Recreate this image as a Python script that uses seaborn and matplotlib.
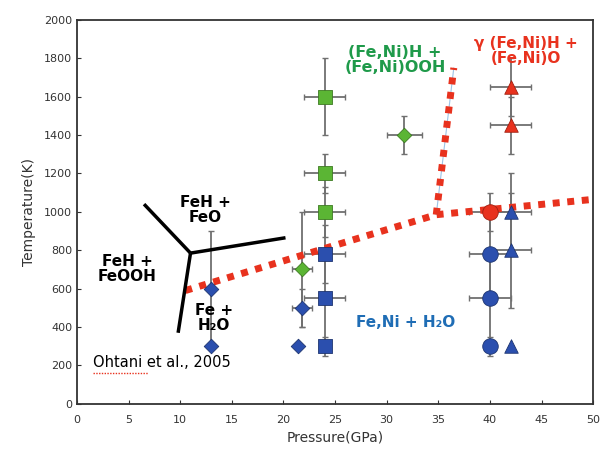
import numpy as np
import pandas as pd
import matplotlib
matplotlib.use("Agg")
import matplotlib.pyplot as plt
import seaborn as sns

# ---------------- data ----------------
# Blue diamonds (Fe,Ni + H2O)
bd_P = [13.0, 13.0, 21.8, 21.4]
bd_T = [600, 300, 500, 300]
bd_xe = [0, 0, 1.0, 0]
bd_ye = [300, 0, 100, 0]
# Green diamonds
gd_P = [21.8, 31.7]
gd_T = [700, 1400]
gd_xe = [1.0, 1.7]
gd_ye = [300, 100]
# Blue squares
bs_P = [24.0, 24.0, 24.0]
bs_T = [780, 550, 300]
bs_xe = [2.0, 2.0, 0]
bs_ye = [150, 250, 50]
# Green squares
gs_P = [24.0, 24.0, 24.0]
gs_T = [1600, 1200, 1000]
gs_xe = [2.0, 2.0, 2.0]
gs_ye = [200, 100, 130]
# Blue circles
bc_P = [40.0, 40.0, 40.0]
bc_T = [780, 550, 300]
bc_xe = [2.0, 2.0, 0]
bc_ye = [200, 250, 50]
# Red circle
rc_P = [40.0]
rc_T = [1000]
rc_xe = [2.0]
rc_ye = [100]
# Blue triangles
bt_P = [42.0, 42.0, 42.0]
bt_T = [1000, 800, 300]
bt_xe = [2.0, 2.0, 0]
bt_ye = [200, 300, 0]
# Red triangles
rt_P = [42.0, 42.0]
rt_T = [1650, 1450]
rt_xe = [2.0, 2.0]
rt_ye = [150, 150]

# red dotted phase boundary
red_P = [10.5, 34.8, 50.0]
red_T = [590, 985, 1065]
red2_P = [34.8, 36.5]
red2_T = [985, 1750]

# Ohtani et al. 2005 black boundaries (triple point + three branches)
trip = (11.0, 785)
blk_ends_P = [6.5, 20.2, 9.8]
blk_ends_T = [1040, 865, 370]

x_ticks = [0, 5, 10, 15, 20, 25, 30, 35, 40, 45, 50]
y_ticks = [0, 200, 400, 600, 800, 1000, 1200, 1400, 1600, 1800, 2000]

# ---------------- style ----------------
sns.set_style("ticks")
plt.rcParams['font.family'] = ['DejaVu Sans']

BLUE = "#2b4fae"
GREEN = "#5bb534"
RED = "#e8321e"
EBC = "#707070"

fig = plt.figure(figsize=(6.01, 4.61), dpi=100)
ax = fig.add_axes([0.128, 0.124, 0.859, 0.833])

groups = [
    (bd_P, bd_T, bd_xe, bd_ye, BLUE, "D", 55),
    (gd_P, gd_T, gd_xe, gd_ye, GREEN, "D", 55),
    (bs_P, bs_T, bs_xe, bs_ye, BLUE, "s", 115),
    (gs_P, gs_T, gs_xe, gs_ye, GREEN, "s", 115),
    (bc_P, bc_T, bc_xe, bc_ye, BLUE, "o", 125),
    (rc_P, rc_T, rc_xe, rc_ye, RED, "o", 125),
    (bt_P, bt_T, bt_xe, bt_ye, BLUE, "^", 95),
    (rt_P, rt_T, rt_xe, rt_ye, RED, "^", 95),
]

# error bars first
for P, T, xe, ye, c, m, s in groups:
    ax.errorbar(P, T, xerr=xe, yerr=ye, fmt="none", ecolor=EBC,
                elinewidth=1.3, capsize=2.2, capthick=1.0, zorder=2)

# red dotted boundary
ax.plot(red_P, red_T, color=RED, lw=5, linestyle=(0, (1.0, 1.1)), zorder=3,
        solid_capstyle="butt", dash_capstyle="butt")
ax.plot(red2_P, red2_T, color="#9cc3e6", lw=0.8, zorder=3)
ax.plot(red2_P, red2_T, color=RED, lw=5, linestyle=(0, (1.0, 1.1)), zorder=3,
        dash_capstyle="butt")

# black boundaries
for pe, te in zip(blk_ends_P, blk_ends_T):
    ax.plot([trip[0], pe], [trip[1], te], color="black", lw=2.5, zorder=3,
            solid_capstyle="butt")

# markers through seaborn
for P, T, xe, ye, c, m, s in groups:
    df = pd.DataFrame({"P": P, "T": T})
    sns.scatterplot(data=df, x="P", y="T", ax=ax, color=c, marker=m, s=s,
                    edgecolor="#1e3570" if c == BLUE else ("#3d7a22" if c == GREEN else "#a02010"),
                    linewidth=0.6, zorder=4, legend=False)

# ---------------- text ----------------
ax.text(30.8, 1790, "(Fe,Ni)H +\n(Fe,Ni)OOH", color="#1f9a4a", fontsize=11.5,
        fontweight="bold", ha="center", va="center", linespacing=1.0, zorder=5)
ax.text(43.5, 1840, "γ (Fe,Ni)H +\n(Fe,Ni)O", color=RED, fontsize=11,
        fontweight="bold", ha="center", va="center", linespacing=1.0, zorder=5)
ax.text(31.8, 425, "Fe,Ni + H₂O", color="#1f6db5", fontsize=11,
        fontweight="bold", ha="center", va="center", zorder=5)
ax.text(12.4, 1010, "FeH +\nFeO", color="black", fontsize=11, fontweight="bold",
        ha="center", va="center", linespacing=1.0, zorder=5)
ax.text(4.9, 700, "FeH +\nFeOOH", color="black", fontsize=11, fontweight="bold",
        ha="center", va="center", linespacing=1.0, zorder=5)
ax.text(13.3, 445, "Fe +\nH₂O", color="black", fontsize=11, fontweight="bold",
        ha="center", va="center", linespacing=1.0, zorder=5)
ax.text(1.6, 215, "Ohtani et al., 2005", color="black", fontsize=10.5,
        ha="left", va="center", zorder=5)
ax.plot([1.6, 6.9], [162, 162], color=RED, lw=1.0, linestyle=(0, (1, 1)), zorder=5)

# ---------------- axes ----------------
ax.set_xlim(0, 50)
ax.set_ylim(0, 2000)
ax.set_xticks(x_ticks)
ax.set_yticks(y_ticks)
ax.tick_params(direction="in", length=3, width=0.8, labelsize=8, colors="#333333",
               top=False, right=False)
ax.tick_params(axis="x", pad=8)
for sp in ax.spines.values():
    sp.set_visible(True)
    sp.set_color("#333333")
    sp.set_linewidth(1.3)
ax.set_xlabel("Pressure(GPa)", fontsize=10, color="#333333", labelpad=4)
ax.set_ylabel("Temperature(K)", fontsize=10, color="#333333", labelpad=6)

fig.savefig("out.png", dpi=100)
